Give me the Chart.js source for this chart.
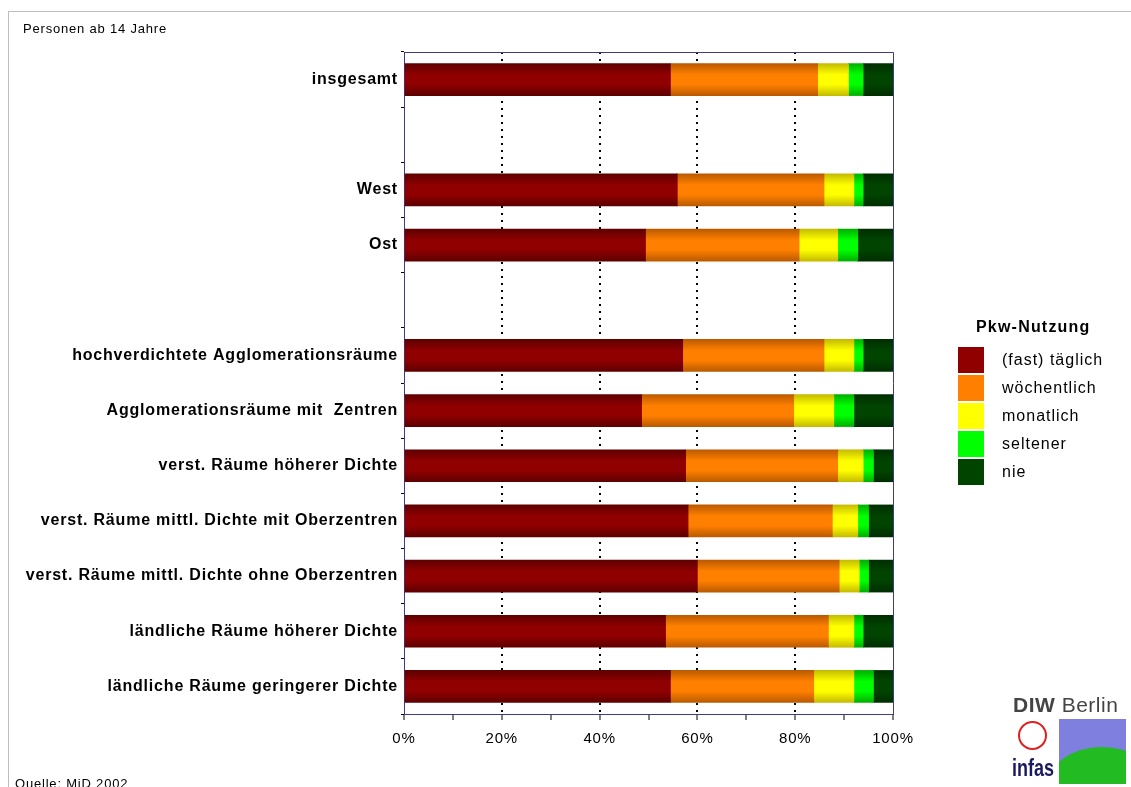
<!DOCTYPE html>
<html>
<head>
<meta charset="utf-8">
<script src="https://cdn.jsdelivr.net/npm/chart.js@4"></script>
<style>
  body { margin: 0; background: #fff; font-family: "Liberation Sans", Arial, sans-serif; }
  #wrap { position: relative; width: 1131px; height: 787px; overflow: hidden; }
  #frame { position: absolute; left: 8px; top: 11px; width: 1200px; height: 900px; border: 1px solid #bdbdbd; }
  canvas { position: absolute; left: 0; top: 0; }
  .note { position: absolute; font-size: 13px; letter-spacing: 0.8px; color: #000; }
  #legend { position: absolute; left: 958px; top: 314px; }
  #legend .ttl { font-weight: bold; font-size: 16px; letter-spacing: 1.2px; margin-left: 18px; height: 32px; line-height: 26px; }
  #legend .item { height: 28px; display: flex; align-items: center; font-size: 16px; letter-spacing: 1px; }
  #legend .box { width: 26px; height: 26px; margin-right: 18px; }
  #logo { position: absolute; left: 1010px; top: 690px; width: 121px; height: 97px; }
</style>
</head>
<body>
<div id="wrap">
  <div id="frame"></div>
  <canvas id="chart" width="1131" height="787"></canvas>
  <div class="note" style="left:23px; top:21px;">Personen ab 14 Jahre</div>
  <div class="note" style="left:15px; top:776px;">Quelle: MiD 2002</div>
  <div id="legend"></div>
  <div id="logo">
    <div style="position:absolute; left:3px; top:3px; font-size:21px; color:#444; letter-spacing:0.5px; white-space:nowrap;"><b>DIW</b> Berlin</div>
    <div style="position:absolute; left:8px; top:31px; width:25px; height:25px; border:2px solid #d22; border-radius:50%;"></div>
    <div style="position:absolute; left:49px; top:29px; width:67px; height:65px; background:#7f7fe0; overflow:hidden;">
      <div style="position:absolute; left:-12px; top:28px; width:110px; height:80px; background:#22bb22; border-radius:50%;"></div>
    </div>
    <div style="position:absolute; left:2px; top:64px; font-size:24px; font-weight:bold; color:#1a1a60; transform:scaleX(0.75); transform-origin:left;">infas</div>
  </div>
</div>
<script>
// Pkw-Nutzung, Anteile in %
const categories = [
  'insgesamt', '', 'West', 'Ost', '',
  'hochverdichtete Agglomerationsräume',
  'Agglomerationsräume mit  Zentren',
  'verst. Räume höherer Dichte',
  'verst. Räume mittl. Dichte mit Oberzentren',
  'verst. Räume mittl. Dichte ohne Oberzentren',
  'ländliche Räume höherer Dichte',
  'ländliche Räume geringerer Dichte'
];
const seriesNames = ['(fast) täglich', 'wöchentlich', 'monatlich', 'seltener', 'nie'];
const taeglich     = [54.5, null, 55.9, 49.4, null, 57.0, 48.6, 57.6, 58.1, 60.0, 53.5, 54.5];
const woechentlich = [30.1, null, 30.0, 31.4, null, 28.9, 31.1, 31.1, 29.5, 29.0, 33.3, 29.3];
const monatlich    = [6.3, null, 6.1, 7.9, null, 6.1, 8.2, 5.2, 5.2, 4.1, 5.2, 8.2];
const seltener     = [3.0, null, 1.9, 4.1, null, 1.9, 4.1, 2.1, 2.2, 1.9, 1.9, 4.0];
const nie          = [6.1, null, 6.1, 7.2, null, 6.1, 8.0, 4.0, 5.0, 5.0, 6.1, 4.0];
const xTicks = [0, 20, 40, 60, 80, 100];

const colors = ['#900000', '#ff8000', '#ffff00', '#00ff00', '#004400'];
const edges  = ['#5e0000', '#bb5a00', '#c4bc00', '#00b000', '#002e00'];
const BAR = 32;
const NAVY = '#3c3c8a';

// cylinder-like shading, dark at top and bottom edge of each bar
function shade(i) {
  return (c) => {
    const chart = c.chart;
    if (!chart.chartArea || c.dataIndex == null) return colors[i];
    const y = chart.scales.y.getPixelForValue(c.dataIndex);
    const g = chart.ctx.createLinearGradient(0, y - BAR / 2, 0, y + BAR / 2);
    g.addColorStop(0, edges[i]);
    g.addColorStop(0.35, colors[i]);
    g.addColorStop(0.65, colors[i]);
    g.addColorStop(1, edges[i]);
    return g;
  };
}

const values = [taeglich, woechentlich, monatlich, seltener, nie];

const framePlugin = {
  id: 'frame',
  beforeDraw(chart) { chart.ctx.letterSpacing = '0.8px'; },
  afterDraw(chart) {
    const { ctx, chartArea: a } = chart;
    ctx.letterSpacing = '0px';
    ctx.save();
    ctx.strokeStyle = NAVY;
    ctx.lineWidth = 1;
    ctx.beginPath();
    ctx.moveTo(a.left, a.top + 0.5);
    ctx.lineTo(a.right + 0.5, a.top + 0.5);
    ctx.lineTo(a.right + 0.5, a.bottom);
    ctx.stroke();
    ctx.restore();
  }
};

Chart.defaults.font.family = '"Liberation Sans", Arial, sans-serif';
Chart.defaults.color = '#000';

const chart = new Chart(document.getElementById('chart'), {
  type: 'bar',
  data: {
    labels: categories,
    datasets: values.map((v, i) => ({
      label: seriesNames[i],
      data: v,
      backgroundColor: shade(i),
      borderWidth: 0,
      barThickness: BAR
    }))
  },
  options: {
    indexAxis: 'y',
    responsive: false,
    animation: false,
    layout: { padding: { top: 52, right: 238, left: 0, bottom: 0 } },
    plugins: { legend: { display: false }, tooltip: { enabled: false } },
    scales: {
      x: {
        stacked: true,
        min: 0, max: 100,
        afterFit: (s) => { s.height = 73; },
        afterBuildTicks: (s) => {
          s.ticks = [];
          for (let v = 0; v <= 100; v += 10) s.ticks.push({ value: v });
        },
        ticks: {
          font: { size: 15 },
          padding: 10,
          maxRotation: 0,
          autoSkip: false,
          callback: (v) => (xTicks.includes(v) ? v + '%' : '')
        },
        grid: {
          color: (c) => (c.tick && xTicks.includes(c.tick.value) && c.tick.value > 0 && c.tick.value < 100 ? '#000' : 'rgba(0,0,0,0)'),
          lineWidth: 2,
          tickColor: '#000',
          tickLength: 6,
          tickWidth: 1
        },
        border: { color: NAVY, width: 1, dash: [2, 5] }
      },
      y: {
        stacked: true,
        afterFit: (s) => { s.width = 404; },
        ticks: { font: { size: 16, weight: 'bold' }, padding: 3, autoSkip: false },
        grid: { drawOnChartArea: false, tickColor: '#000', tickLength: 3, offset: true },
        border: { color: NAVY, width: 1 }
      }
    }
  },
  plugins: [framePlugin]
});

// legend built from the chart's datasets
const leg = document.getElementById('legend');
leg.innerHTML = '<div class="ttl">Pkw-Nutzung</div>' +
  chart.data.datasets.map((d, i) =>
    `<div class="item"><span class="box" style="background:${colors[i]}"></span>${d.label}</div>`
  ).join('');
</script>
</body>
</html>
